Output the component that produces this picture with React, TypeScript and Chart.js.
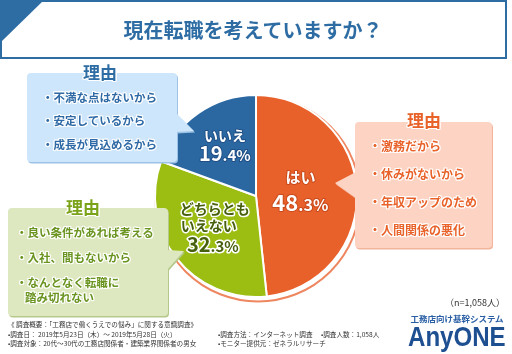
import React, { useEffect, useRef } from 'react';
import { Chart, registerables } from 'chart.js';

Chart.register(...registerables);

// ---------- data ----------
const categories = ['はい', 'どちらともいえない', 'いいえ'];
const categoryLines = [['はい'], ['どちらとも', 'いえない'], ['いいえ']];
const values = [48.3, 32.3, 19.4];
const sliceColors = ['#E8602A', '#9CBD12', '#2B68A2'];

const titleText = '現在転職を考えていますか？';
const reasonTitle = '理由';
const reasonsNo = ['・不満な点はないから', '・安定しているから', '・成長が見込めるから'];
const reasonsNeither = ['・良い条件があれば考える', '・入社、間もないから', '・なんとなく転職に'];
const reasonsNeitherCont = '踏み切れない';
const reasonsYes = ['・激務だから', '・休みがないから', '・年収アップのため', '・人間関係の悪化'];
const sampleNote = '（n=1,058人）';
const footerLeft = [
  '《 調査概要：「工務店で働くうえでの悩み」に関する意識調査》',
  '•調査日： 2019年5月23日（木）～ 2019年5月28日（火）',
  '•調査対象：20代～30代の工務店関係者・建築業界関係者の男女',
];
const footerMethod = '•調査方法：インターネット調査';
const footerCount = '•調査人数：1,058人';
const footerMonitor = '•モニター提供元：ゼネラルリサーチ';
const logoSub = '工務店向け基幹システム';
const logoMain = 'AnyONE';

// ---------- label styling (per slice) ----------
const labelStyle = [
  { f: 0.44, fill: '#FFFFFF', stroke: '#C94A1C', lw: 2, name: 15, pct: 22, lines: [[0, -16]], pctOff: [0, 9.5] },
  { f: 0.53, fill: '#46600E', stroke: '#FFFFFF', lw: 3, name: 14, pct: 20, lines: [[1, -20], [-5, -3]], pctOff: [-1, 16] },
  { f: 0.59, fill: '#FFFFFF', stroke: '#1F4F86', lw: 2, name: 14, pct: 20, lines: [[3, -11]], pctOff: [3, 7] },
];

const FONT = '"Noto Sans CJK JP", "Noto Sans", sans-serif';

const ringPlugin = {
  id: 'ring',
  beforeDatasetsDraw(chart: any) {
    const arc = chart.getDatasetMeta(0).data[0];
    if (!arc) return;
    const { x, y, outerRadius } = arc.getProps(['x', 'y', 'outerRadius'], true);
    const ctx = chart.ctx;
    ctx.save();
    ctx.beginPath();
    ctx.arc(x + 2, y + 3, outerRadius + 1.5, 0, Math.PI * 2);
    ctx.strokeStyle = '#EE8660';
    ctx.lineWidth = 2;
    ctx.stroke();
    ctx.restore();
  },
};

const labelPlugin = {
  id: 'sliceLabels',
  afterDatasetsDraw(chart: any) {
    const ctx = chart.ctx;
    const meta = chart.getDatasetMeta(0);
    meta.data.forEach((arc: any, i: number) => {
      const { x, y, startAngle, endAngle, outerRadius } = arc.getProps(
        ['x', 'y', 'startAngle', 'endAngle', 'outerRadius'],
        true
      );
      const st = labelStyle[i];
      const mid = (startAngle + endAngle) / 2;
      const cx = x + Math.cos(mid) * outerRadius * st.f;
      const cy = y + Math.sin(mid) * outerRadius * st.f;
      ctx.save();
      ctx.lineJoin = 'round';
      ctx.textAlign = 'left';
      ctx.textBaseline = 'alphabetic';
      const drawPiece = (text: string, px: number, py: number, size: number) => {
        ctx.font = `bold ${size}px ${FONT}`;
        ctx.strokeStyle = st.stroke;
        ctx.lineWidth = st.lw;
        ctx.strokeText(text, px, py);
        ctx.fillStyle = st.fill;
        ctx.fillText(text, px, py);
      };
      categoryLines[i].forEach((line, k) => {
        const [dx, dy] = st.lines[k];
        ctx.font = `bold ${st.name}px ${FONT}`;
        const w = ctx.measureText(line).width;
        drawPiece(line, cx + dx - w / 2, cy + dy + st.name * 0.38, st.name);
      });
      const [ip, dp] = values[i].toFixed(1).split('.');
      const big = st.pct;
      const small = Math.round(st.pct * 0.74);
      ctx.font = `bold ${big}px ${FONT}`;
      const w1 = ctx.measureText(ip).width;
      ctx.font = `bold ${small}px ${FONT}`;
      const w2 = ctx.measureText('.' + dp + '%').width;
      const total = w1 + w2;
      const bx = cx + st.pctOff[0] - total / 2;
      const by = cy + st.pctOff[1] + big * 0.36;
      drawPiece(ip, bx, by, big);
      drawPiece('.' + dp + '%', bx + w1, by, small);
      ctx.restore();
    });
  },
};

function PieChart() {
  const ref = useRef<HTMLCanvasElement | null>(null);
  useEffect(() => {
    if (!ref.current) return;
    const chart = new Chart(ref.current, {
      type: 'pie',
      data: {
        labels: categories,
        datasets: [
          {
            data: values,
            backgroundColor: sliceColors,
            borderColor: '#FFFFFF',
            borderWidth: 2,
          },
        ],
      },
      options: {
        responsive: false,
        animation: false,
        layout: { padding: 8 },
        plugins: { legend: { display: false }, tooltip: { enabled: false } },
      },
      plugins: [ringPlugin, labelPlugin],
    });
    return () => chart.destroy();
  }, []);
  return <canvas ref={ref} width={220} height={220} style={{ width: 220, height: 220, display: 'block' }} />;
}

const whiteOutline =
  '1px 0 0 #fff, -1px 0 0 #fff, 0 1px 0 #fff, 0 -1px 0 #fff, 1px 1px 0 #fff, -1px -1px 0 #fff, 1px -1px 0 #fff, -1px 1px 0 #fff';

function Txt(props: {
  x: number;
  yc: number;
  fs: number;
  color: string;
  text: string;
  weight?: number;
  outline?: boolean;
  align?: 'left' | 'center' | 'right';
}) {
  const { x, yc, fs, color, text, weight = 700, outline = false, align = 'left' } = props;
  const style: any = {
    position: 'absolute',
    top: yc - 0.55 * fs,
    lineHeight: fs + 'px',
    fontSize: fs,
    color,
    fontWeight: weight,
    whiteSpace: 'nowrap',
    textShadow: outline ? whiteOutline : undefined,
  };
  if (align === 'center') {
    style.left = x - 200;
    style.width = 400;
    style.textAlign = 'center';
  } else if (align === 'right') {
    style.right = 512 - x;
    style.textAlign = 'right';
  } else {
    style.left = x;
  }
  return <div style={style}>{text}</div>;
}

function Box(props: { x: number; y: number; w: number; h: number; fill: string; shadow: string; pointer: string }) {
  const { x, y, w, h, fill, shadow, pointer } = props;
  return (
    <g>
      <g transform="translate(1,1.5)">
        <rect x={x} y={y} width={w} height={h} rx={4} fill={shadow} />
        <polygon points={pointer} fill={shadow} />
      </g>
      <rect x={x} y={y} width={w} height={h} rx={4} fill={fill} />
      <polygon points={pointer} fill={fill} />
    </g>
  );
}

export default function App() {
  return (
    <div
      style={{
        position: 'fixed',
        left: 0,
        top: 0,
        width: 512,
        height: 354,
        background: '#FFFFFF',
        overflow: 'hidden',
        fontFamily: FONT,
      }}
    >
      <div style={{ position: 'absolute', left: 146, top: 86, width: 220, height: 220 }}>
        <PieChart />
      </div>
      <svg width={512} height={354} style={{ position: 'absolute', left: 0, top: 0 }}>
        <rect x={1} y={1} width={505} height={57} fill="none" stroke="#2E6DA4" strokeWidth={2} />
        <polygon points="0,0 44,0 2,41 0,41" fill="#2E6DA4" />
        <Box x={27} y={73} w={150} h={89} fill="#CDE6FB" shadow="#9CC3E6" pointer="176,113 194,131 176,132" />
        <Box x={8} y={208} w={160} h={108} fill="#DEE8C0" shadow="#B5C98A" pointer="167,250 184,251 167,270" />
        <Box x={355} y={122} w={137} h={126} fill="#FDD4C4" shadow="#F3B49C" pointer="356,172 335,183 356,198" />
      </svg>

      <Txt x={253} yc={31} fs={20} color="#2E6DA4" text={titleText} align="center" />

      <Txt x={100} yc={72} fs={17} color="#2E6DA4" text={reasonTitle} align="center" outline />
      {reasonsNo.map((t, i) => (
        <Txt key={'n' + i} x={42} yc={98 + i * 23.5} fs={11.5} color="#2F6AA6" text={t} outline />
      ))}

      <Txt x={83} yc={207} fs={17} color="#7BA31A" text={reasonTitle} align="center" outline />
      {reasonsNeither.map((t, i) => (
        <Txt key={'m' + i} x={16} yc={233 + i * 25} fs={11.5} color="#6A9420" text={t} outline />
      ))}
      <Txt x={25} yc={298} fs={11.5} color="#6A9420" text={reasonsNeitherCont} outline />

      <Txt x={424} yc={120} fs={17} color="#E8622A" text={reasonTitle} align="center" outline />
      {reasonsYes.map((t, i) => (
        <Txt key={'y' + i} x={369} yc={147 + i * 28} fs={12} color="#E8622A" text={t} outline />
      ))}

      <Txt x={505} yc={303} fs={9} color="#333333" text={sampleNote} weight={400} align="right" />

      {footerLeft.map((t, i) => (
        <Txt key={'f' + i} x={8} yc={[325, 334.5, 344][i]} fs={6.6} color="#333333" text={t} weight={400} />
      ))}
      <Txt x={218} yc={334.5} fs={6.6} color="#333333" text={footerMethod} weight={400} />
      <Txt x={321} yc={334.5} fs={6.6} color="#333333" text={footerCount} weight={400} />
      <Txt x={218} yc={344} fs={6.6} color="#333333" text={footerMonitor} weight={400} />

      <Txt x={457} yc={319} fs={8.5} color="#2A5FA5" text={logoSub} align="center" />
      <div
        style={{
          position: 'absolute',
          left: 408,
          top: 323,
          fontSize: 28,
          lineHeight: '28px',
          fontFamily: '"Liberation Sans", Arial, sans-serif',
          fontWeight: 700,
          color: '#1D4F91',
          whiteSpace: 'nowrap',
          transform: 'scaleX(0.86)',
          transformOrigin: 'left top',
        }}
      >
        {logoMain}
      </div>
    </div>
  );
}
